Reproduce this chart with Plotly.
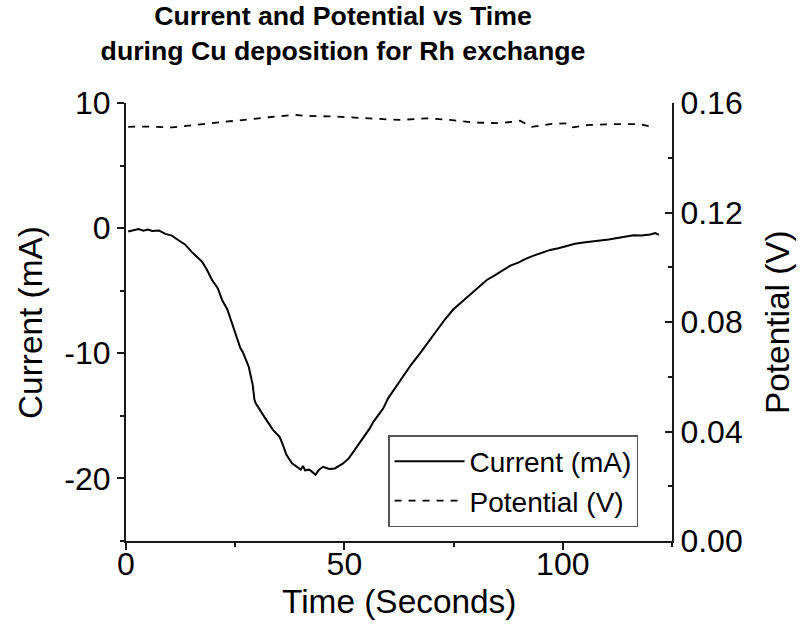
import plotly.graph_objects as go

# Current (mA) vs time (s)
time_current = [0.5, 1.5, 2.9, 4.0, 5.0, 6.0, 7.5, 9.0, 10.5, 12.1, 13.5, 15.1, 17.4, 18.5,
                19.7, 21.0, 22.0, 23.2, 24.3, 25.3, 26.2, 26.7, 28.1, 29.0, 29.4, 29.7, 31.3,
                31.9, 33.6, 35.2, 36.0, 36.7, 38.0, 39.0, 40.0, 40.5, 41.0, 42.0, 43.4, 44.2,
                45.1, 46.5, 47.8, 49.7, 51.0, 52.0, 54.3, 55.8, 56.6, 58.9, 60.0, 61.9, 63.4,
                65.3, 67.3, 69.2, 71.1, 73.0, 74.9, 76.8, 78.7, 80.6, 82.6, 84.5, 86.4, 88.0,
                89.8, 91.5, 93.3, 95.2, 97.1, 99.0, 100.9, 102.8, 104.7, 106.6, 108.6, 110.5,
                112.4, 114.3, 116.2, 118.0, 120.0, 121.2, 122.0]
current_mA = [-0.27, -0.2, -0.08, -0.2, -0.12, -0.22, -0.18, -0.46, -0.6, -0.99, -1.3, -1.92,
              -2.67, -3.3, -4.14, -4.8, -5.74, -6.5, -7.6, -8.6, -9.6, -9.87, -11.07, -12.5,
              -13.7, -14.0, -14.8, -15.2, -16.1, -16.7, -17.4, -18.1, -18.8, -19.07, -19.3,
              -19.0, -19.35, -19.3, -19.7, -19.3, -19.07, -19.25, -19.2, -18.8, -18.4, -17.9,
              -16.8, -16.0, -15.5, -14.4, -13.6, -12.6, -11.9, -10.9, -10.0, -9.1, -8.14,
              -7.3, -6.5, -5.9, -5.34, -4.7, -4.14, -3.75, -3.34, -3.0, -2.75, -2.45, -2.2,
              -1.95, -1.74, -1.6, -1.42, -1.25, -1.15, -1.1, -0.99, -0.9, -0.8, -0.7, -0.56,
              -0.58, -0.51, -0.4, -0.54]

# Potential (V) vs time (s)
time_potential = [0.5, 5.0, 10.5, 15.1, 20.5, 26.6, 32.7, 38.8, 41.1, 47.2, 53.4, 57.9, 62.6,
                  68.8, 74.2, 79.5, 85.6, 90.2, 92.9, 97.1, 100.9, 102.4, 105.5, 111.6, 117.7,
                  120.8]
potential_V = [0.1513, 0.1514, 0.1511, 0.1519, 0.1527, 0.1539, 0.1548, 0.1557, 0.1553, 0.1551,
               0.1545, 0.1541, 0.1538, 0.1544, 0.1538, 0.1529, 0.1526, 0.1535, 0.1513, 0.1523,
               0.1526, 0.1511, 0.1519, 0.1523, 0.1523, 0.1511]

left_tickvals = [-20, -10, 0, 10]
left_ticktext = ["-20", "-10", "0", "10"]
right_tickvals = [0.0, 0.04, 0.08, 0.12, 0.16]
right_ticktext = ["0.00", "0.04", "0.08", "0.12", "0.16"]
x_tickvals = [0, 50, 100]

FONT = "Liberation Sans, Arial, sans-serif"
AX = "#1a1a1a"
TITLE_SIZE = 33.4

fig = go.Figure()
fig.add_trace(go.Scatter(x=time_current, y=current_mA, mode="lines", name="Current (mA)",
                         line=dict(color="black", width=2), yaxis="y"))
fig.add_trace(go.Scatter(x=time_potential, y=potential_V, mode="lines", name="Potential (V)",
                         line=dict(color="black", width=1.8, dash="7px,7px"), yaxis="y2"))

axis_titles = [
    dict(text="Time (Seconds)", x=0.5, y=-0.137, textangle=0),
    dict(text="Current (mA)", x=(30 - 126) / 546, y=0.5, textangle=-90),
    dict(text="Potential (V)", x=(777 - 126) / 546, y=0.5, textangle=-90),
]
for a in axis_titles:
    fig.add_annotation(text=a["text"], x=a["x"], y=a["y"], xref="paper", yref="paper",
                       xanchor="center", yanchor="middle", textangle=a["textangle"],
                       showarrow=False, font=dict(family=FONT, size=TITLE_SIZE, color="black"))

fig.update_layout(
    width=800, height=628,
    margin=dict(l=126, r=128, t=103, b=87),
    paper_bgcolor="white", plot_bgcolor="white",
    font=dict(family=FONT, size=32, color="black"),
    title=dict(text="<b>Current and Potential vs Time<br>during Cu deposition for Rh exchange</b>",
               x=343/800, xanchor="center", xref="container",
               y=0.960, yanchor="top", yref="container",
               font=dict(family=FONT, size=26.7, color="black")),
    xaxis=dict(range=[0, 125], tickvals=x_tickvals, ticks="outside", ticklen=7, tickwidth=1.5,
               tickcolor=AX, showline=True, linecolor=AX, linewidth=2, showgrid=False,
               zeroline=False, automargin=False, ticklabelstandoff=-13,
               minor=dict(dtick=25, tick0=0, ticks="outside", ticklen=4, tickwidth=1.5,
                          tickcolor=AX, showgrid=False)),
    yaxis=dict(range=[-25, 10], tickvals=left_tickvals, ticktext=left_ticktext,
               ticks="outside", ticklen=7, tickwidth=1.5, tickcolor=AX, showline=True,
               linecolor=AX, linewidth=2, showgrid=False, zeroline=False, automargin=False,
               minor=dict(dtick=5, tick0=0, ticks="outside", ticklen=4, tickwidth=1.5,
                          tickcolor=AX, showgrid=False)),
    yaxis2=dict(range=[0, 0.16], overlaying="y", side="right", tickvals=right_tickvals,
                ticktext=right_ticktext, ticks="inside", ticklen=7, tickwidth=1.5,
                tickcolor=AX, showline=True, linecolor=AX, linewidth=2, showgrid=False,
                zeroline=False, automargin=False,
                minor=dict(dtick=0.02, tick0=0, ticks="inside", ticklen=4, tickwidth=1.5,
                           tickcolor=AX, showgrid=False)),
    legend=dict(x=0.48, y=0.242, xanchor="left", yanchor="top", bgcolor="white",
                bordercolor="#555", borderwidth=1.5, font=dict(family=FONT, size=28),
                itemwidth=70, tracegroupgap=0),
    showlegend=True,
)

fig.write_html("out.html")
